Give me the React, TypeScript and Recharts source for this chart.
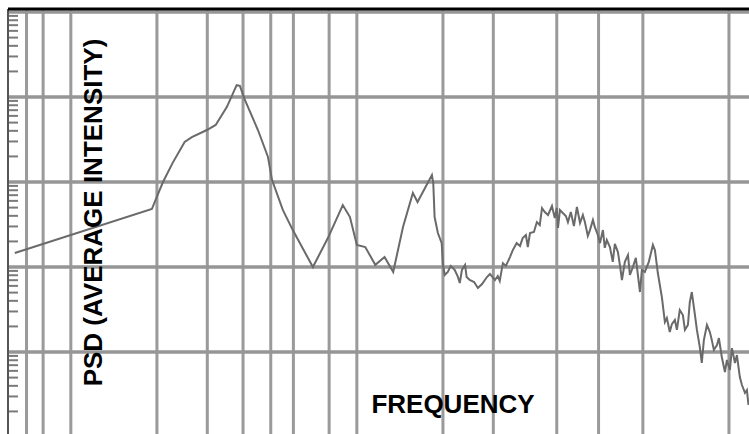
import { CartesianGrid, Line, LineChart, ReferenceLine, XAxis, YAxis } from "recharts";

// frequency (Hz) and PSD
const freq = [
  6.37, 19.2, 20.1, 21.0, 22.7, 25.0, 26.5, 29.9, 32.1, 35.1, 38.0, 39.0, 40.6, 45.1, 48.9, 50.5, 55.1, 59.7,
  70.2, 79.2, 89.3, 94.6, 100, 107, 116, 125, 134, 145, 157, 163, 183, 185, 187, 192, 198, 200, 203, 208, 213,
  220, 225, 229, 233, 239, 242, 248, 257, 265, 274, 285, 292, 304, 311, 316, 324, 332, 343, 351, 362, 372, 380,
  390, 396, 403, 416, 426, 436, 444, 454, 466, 481, 492, 500, 505, 513, 525, 538, 547, 560, 574, 588, 603, 617,
  627, 642, 653, 669, 679, 696, 708, 725, 736, 748, 767, 785, 798, 818, 831, 845, 865, 887, 901, 923, 945, 977,
  992, 1016, 1049, 1084, 1102, 1128, 1165, 1194, 1213, 1242, 1263, 1294, 1315, 1346, 1380, 1403, 1437, 1459,
  1483, 1521, 1545, 1581, 1607, 1634, 1675, 1715, 1742, 1771, 1816, 1844, 1888, 1936, 1967, 2015, 2048, 2099,
  2132, 2183, 2220, 2275, 2311, 2340,
];
const psd = [
  0.0146, 0.0481, 0.0703, 0.1, 0.168, 0.296, 0.338, 0.409, 0.469, 0.762, 1.38, 1.35, 0.923, 0.409, 0.197, 0.106,
  0.0469, 0.0272, 0.01, 0.0219, 0.0535, 0.0387, 0.0182, 0.0172, 0.0106, 0.0131, 0.00873, 0.0296, 0.0743, 0.0582,
  0.121, 0.0973, 0.0387, 0.0251, 0.0191, 0.0106, 0.00805, 0.00873, 0.0103, 0.00923, 0.00783, 0.00649, 0.00923,
  0.0106, 0.00762, 0.00703, 0.00667, 0.00566, 0.00631, 0.00762, 0.00828, 0.00703, 0.00783, 0.00685, 0.0111,
  0.0103, 0.0131, 0.0158, 0.0191, 0.0177, 0.0219, 0.0238, 0.0172, 0.0251, 0.0258, 0.0338, 0.0312, 0.0494, 0.0444,
  0.0409, 0.0522, 0.0377, 0.0494, 0.0288, 0.0469, 0.0432, 0.0398, 0.0338, 0.0444, 0.0303, 0.0508, 0.033, 0.0409,
  0.0338, 0.0232, 0.0272, 0.0357, 0.0296, 0.0238, 0.0191, 0.0272, 0.0168, 0.0208, 0.0172, 0.0115, 0.0187, 0.015,
  0.0106, 0.00703, 0.0115, 0.0138, 0.00805, 0.01, 0.0128, 0.00508, 0.00923, 0.00873, 0.0115, 0.0182, 0.0158,
  0.0085, 0.00444, 0.00225, 0.00251, 0.00172, 0.00213, 0.00238, 0.00182, 0.00312, 0.00272, 0.00182, 0.00208,
  0.00387, 0.00508, 0.00272, 0.00182, 0.00115, 0.000743, 0.00138, 0.00208, 0.00172, 0.00138, 0.00106, 0.00121,
  0.00146, 0.000873, 0.000582, 0.000805, 0.000614, 0.00111, 0.000743, 0.000922, 0.000508, 0.000409, 0.00033,
  0.000357, 0.000238,
];

const xTicks = [7, 8, 9, 10, 20, 30, 40, 50, 60, 70, 80, 90, 100, 200, 300, 400, 500, 600, 700, 800, 900, 1000, 2000];
const yDecades = [0.001, 0.01, 0.1, 1, 10];
const yMinor = [
  0.0002, 0.0003, 0.0004, 0.0005, 0.0006, 0.0007, 0.0008, 0.0009, 0.002, 0.003, 0.004, 0.005, 0.006, 0.007,
  0.008, 0.009, 0.02, 0.03, 0.04, 0.05, 0.06, 0.07, 0.08, 0.09, 0.2, 0.3, 0.4, 0.5, 0.6, 0.7, 0.8, 0.9,
  2, 3, 4, 5, 6, 7, 8, 9,
];

const data = freq.map((f, i) => ({ f, p: psd[i] }));
const X_DOMAIN = [6.03, 2350];
const Y_DOMAIN = [1.085e-4, 10.85];
// short inward ticks on the left axis: about 10px in x on a 286px/decade scale
const TICK_END = X_DOMAIN[0] * Math.pow(10, 10 / 286);

export default function App() {
  return (
    <div style={{ position: "absolute", left: 0, top: 0, width: 749, height: 434, background: "#fff" }}>
      <LineChart width={749} height={434} data={data} margin={{ top: 9, right: 0, bottom: 0, left: 8 }}>
        <CartesianGrid stroke="#9a9a9a" strokeWidth={3} horizontal={false} verticalValues={xTicks} />
        <XAxis
          dataKey="f"
          type="number"
          scale="log"
          domain={X_DOMAIN}
          allowDataOverflow
          ticks={xTicks}
          hide
        />
        <YAxis type="number" scale="log" domain={Y_DOMAIN} allowDataOverflow hide />
        {yDecades.map((v) => (
          <ReferenceLine key={v} y={v} stroke="#969696" strokeWidth={3.5} />
        ))}
        {yMinor.map((v) => (
          <ReferenceLine
            key={"m" + v}
            segment={[
              { x: X_DOMAIN[0], y: v },
              { x: TICK_END, y: v },
            ]}
            stroke="#7a7a7a"
            strokeWidth={2}
          />
        ))}
        <ReferenceLine x={X_DOMAIN[0]} stroke="#555" strokeWidth={2} />
        <ReferenceLine y={Y_DOMAIN[1]} stroke="#000" strokeWidth={3} />
        <Line
          dataKey="p"
          type="linear"
          stroke="#6a6a6a"
          strokeWidth={2}
          dot={false}
          isAnimationActive={false}
        />
      </LineChart>
      <svg width={749} height={434} style={{ position: "absolute", left: 0, top: 0, pointerEvents: "none" }}>
        <g fontFamily="'Liberation Sans', Arial, sans-serif" fontWeight="bold" fontSize={26} fill="#000">
          <text x={453} y={413} textAnchor="middle">
            FREQUENCY
          </text>
          <text transform="translate(102,212.5) rotate(-90)" textAnchor="middle">
            PSD (AVERAGE INTENSITY)
          </text>
        </g>
      </svg>
    </div>
  );
}
